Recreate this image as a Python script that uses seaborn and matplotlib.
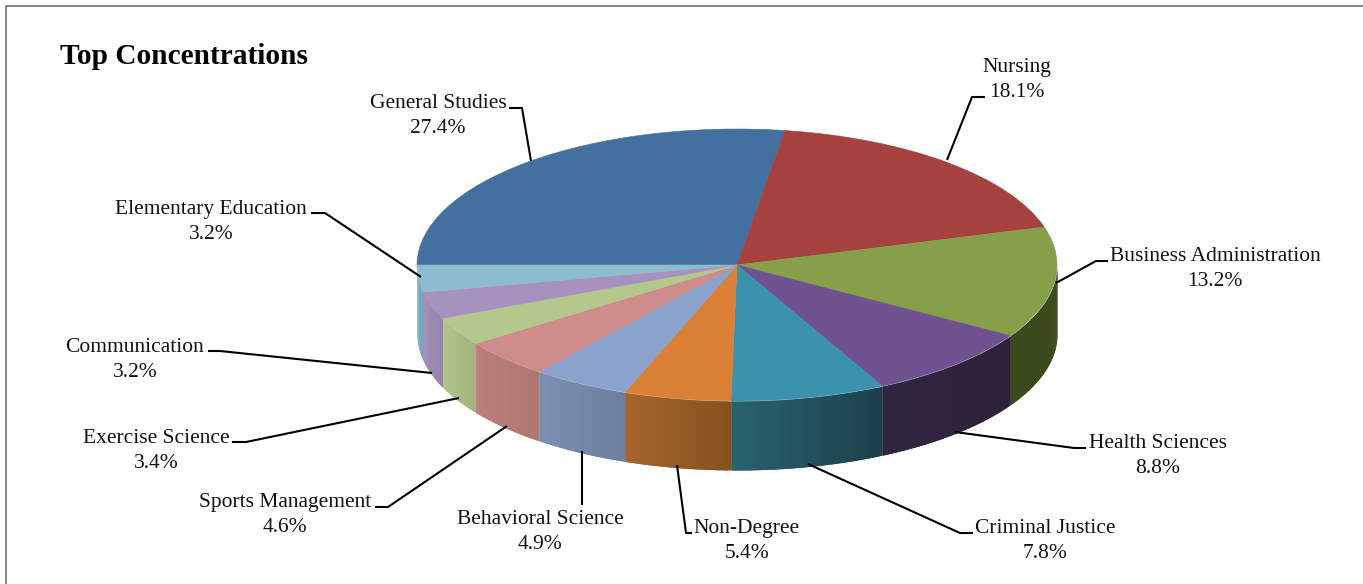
"""
Top concentrations, drawn as a tilted pie with a shaded side wall.
"""
import numpy as np
import matplotlib.pyplot as plt
import seaborn as sns
from matplotlib.colors import to_rgb

categories = [
    "General Studies", "Nursing", "Business Administration", "Health Sciences",
    "Criminal Justice", "Non-Degree", "Behavioral Science", "Sports Management",
    "Exercise Science", "Communication", "Elementary Education",
]
shares = [27.4, 18.1, 13.2, 8.8, 7.8, 5.4, 4.9, 4.6, 3.4, 3.2, 3.2]

top_colors = [
    "#44709f", "#a54240", "#86a04a", "#6f5390", "#3c92ac", "#da8137",
    "#8ba3cc", "#ce8c8b", "#b4c88d", "#a792bf", "#8dbccf",
]
wall_left = [
    "#2d4a6a", "#6e2c2b", "#3a4a1c", "#302540", "#28636f", "#a8652c",
    "#7d90b2", "#bc7f7c", "#b2c68c", "#a08cb8", "#76adc2",
]
wall_right = [
    "#2d4a6a", "#6e2c2b", "#3d4a1c", "#2e2238", "#1c3f4a", "#85521f",
    "#6c7f9e", "#af7872", "#a3b57e", "#9584ab", "#6d9fb3",
]

# label centre x, first line y, then leader line points (pixels from top left)
label_x = [438, 1017, 1215, 1158, 1045, 747, 540, 285, 156, 135, 211]
label_y = [101, 65, 254, 441, 526, 526, 517, 500, 436, 345, 207]
leaders = [
    [(509, 108), (522, 108), (531, 161)],
    [(985, 97), (972, 97), (947, 160)],
    [(1108, 261), (1096, 261), (1056, 283)],
    [(1086, 448), (1074, 448), (955, 432)],
    [(973, 533), (960, 533), (808, 464)],
    [(692, 533), (686, 533), (677, 465)],
    [(582, 505), (582, 451)],
    [(375, 507), (388, 507), (507, 426)],
    [(232, 442), (246, 442), (459, 398)],
    [(208, 351), (220, 351), (432, 373)],
    [(311, 213), (325, 213), (421, 277)],
]

WIDTH, HEIGHT = 1363, 584
CX, CY, RX, RY, DEPTH = 737, 265, 320, 136, 69

sns.set_theme(style="white")
plt.rcParams["font.family"] = ["Liberation Serif", "DejaVu Serif"]

fig = plt.figure(figsize=(WIDTH / 100, HEIGHT / 100), dpi=100, facecolor="white")
ax = fig.add_axes([0, 0, 1, 1])

# the side wall is only seen on the front half of the pie
edges = 180 - np.cumsum([0] + shares) * 3.6
depth = DEPTH / RY
for i in range(len(shares)):
    if edges[i + 1] >= 0:
        continue
    steps = np.linspace(min(edges[i], 0), edges[i + 1], 41)
    c0, c1 = np.array(to_rgb(wall_left[i])), np.array(to_rgb(wall_right[i]))
    # walked from the right end of the slice, each strip overlaps the next
    for j in range(len(steps) - 1):
        t = np.radians(np.linspace(steps[j], steps[min(j + 2, 40)], 4))
        color = c1 + (c0 - c1) * (j + 0.5) / (len(steps) - 1)
        ax.fill_between(np.cos(t), np.sin(t), np.sin(t) - depth,
                        color=color, lw=0, zorder=1 + j * 0.001)

wedges, _ = ax.pie(shares, colors=top_colors, startangle=180, counterclock=False,
                   radius=1, wedgeprops={"zorder": 2})
for wedge in wedges:
    wedge.set_edgecolor(wedge.get_facecolor())
    wedge.set_linewidth(0.4)
ax.set_aspect("auto")
ax.set_xlim(-CX / RX, (WIDTH - CX) / RX)
ax.set_ylim(-(HEIGHT - CY) / RY, CY / RY)

# overlay in image pixels for the frame, labels and leader lines
layer = fig.add_axes([0, 0, 1, 1], facecolor="none")
layer.set_xlim(0, WIDTH)
layer.set_ylim(HEIGHT, 0)
layer.axis("off")

layer.plot([5.5, 5.5, WIDTH], [HEIGHT, 5.5, 5.5], color="#666666", lw=1.1)
layer.text(60, 63.5, "Top Concentrations", fontsize=21.2, fontweight="bold",
           color="black", va="baseline", ha="left")

for name, share, x, y, pts in zip(categories, shares, label_x, label_y, leaders):
    layer.text(x, y + 7, name, fontsize=15.5, color="#111111",
               ha="center", va="baseline")
    layer.text(x, y + 32, f"{share}%", fontsize=15.5, color="#111111",
               ha="center", va="baseline")
    px, py = zip(*pts)
    layer.plot(px, py, color="black", lw=1.5, solid_capstyle="butt")

fig.savefig("out.png", dpi=100)
